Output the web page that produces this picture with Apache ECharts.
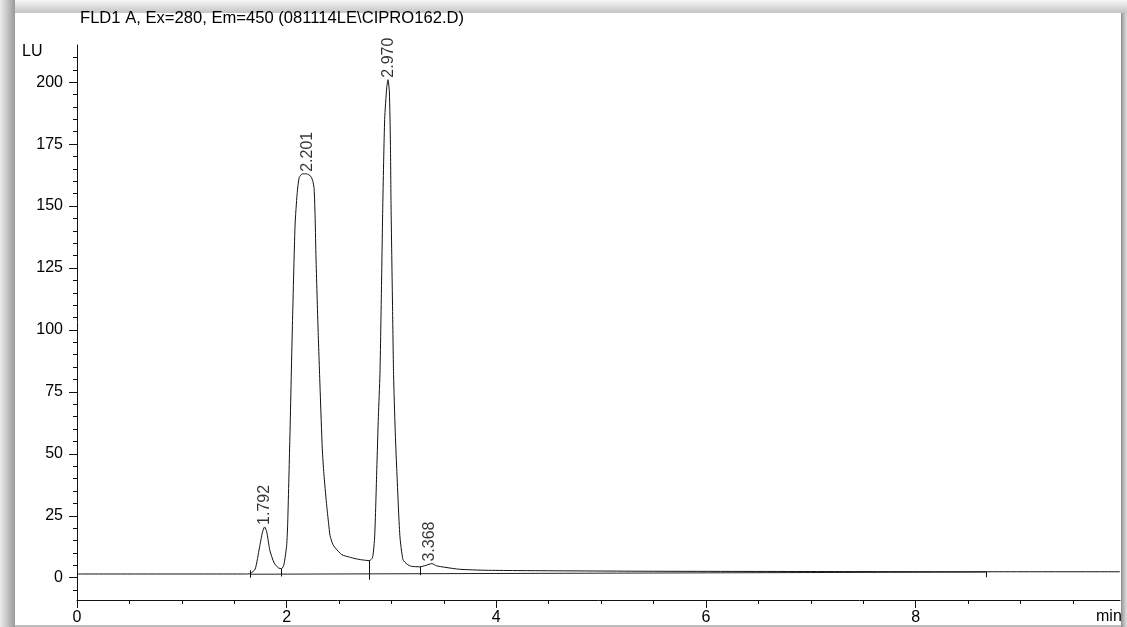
<!DOCTYPE html>
<html>
<head>
<meta charset="utf-8">
<script src="https://cdn.jsdelivr.net/npm/echarts@6/dist/echarts.min.js"></script>
<style>
html,body{margin:0;padding:0;background:#fff;}
#c{width:1127px;height:627px;}
</style>
</head>
<body>
<div id="c"></div>
<script>
// ---- data ----
var titleText = 'FLD1 A, Ex=280, Em=450 (081114LE\\CIPRO162.D)';
var timeMin = [0.00,1.60,1.65,1.70,1.74,1.77,1.79,1.81,1.84,1.88,1.92,1.953,1.975,2.00,2.01,2.03,2.054,2.08,2.10,2.12,2.15,2.19,2.23,2.25,2.262,2.272,2.28,2.30,2.32,2.34,2.355,2.38,2.40,2.414,2.44,2.46,2.526,2.60,2.653,2.72,2.79,2.82,2.84,2.86,2.875,2.89,2.905,2.917,2.935,2.955,2.967,2.98,2.99,2.996,3.01,3.02,3.035,3.05,3.08,3.11,3.15,3.19,3.27,3.33,3.385,3.43,3.51,3.65,3.90,4.50,5.50,7.00,8.50,9.95];
var signalLU = [1.5,1.5,1.6,3.5,12,18.5,20.5,18.5,11,6,4.0,3.6,5.5,13,22,55,100,142,155,161.5,163,163,162,160,157,145,129,100,75,52,42,30,22,17,13.5,12.2,9.3,8.3,7.7,7.2,6.9,8.2,16.8,43.8,65,82,118,150,185,198,201,196,175,150,110,82,60,44,17,7.3,5.4,4.6,4.4,5.0,5.7,4.8,4.2,3.4,3.0,2.8,2.6,2.5,2.4,2.4];
var peakTimes = [1.792, 2.201, 2.970, 3.368];
var peakHeights = [20.5, 163, 201, 5.7];
var baseTimes = [1.65, 8.67];
var baseLU = [1.4, 2.3];
var dropTimes = [1.65, 1.953, 2.79, 3.27, 8.67];
var dropFrom = [0.0, 0.5, -0.8, 1.0, 0.2];
var dropTo = [3.0, 3.6, 6.9, 4.4, 2.4];
var xMajorTicks = [0, 2, 4, 6, 8];
var xMinorTicks = [0.5,1,1.5,2.5,3,3.5,4.5,5,5.5,6.5,7,7.5,8.5,9,9.5];
var yMajorTicks = [0, 25, 50, 75, 100, 125, 150, 175, 200];
var yMinorTicks = [-5,5,10,15,20,30,35,40,45,55,60,65,70,80,85,90,95,105,110,115,120,130,135,140,145,155,160,165,170,180,185,190,195,205,210];
var xMin = 0, xMax = 9.95, yMin = -9, yMax = 215;

// ---- chart ----
var FONT = 'Liberation Sans, Arial, sans-serif';
var signal = timeMin.map(function(t, i){ return [t, signalLU[i]]; });
var baseline = baseTimes.map(function(t, i){ return [t, baseLU[i]]; });
var drops = dropTimes.map(function(t, i){ return [{coord:[t, dropFrom[i]]}, {coord:[t, dropTo[i]]}]; });
var peaks = peakTimes.map(function(t, i){ return [t, peakHeights[i]]; });

function xAx(vals, len, showLabel, showLine){
  return {
    type:'value', min:xMin, max:xMax, position:'bottom',
    axisLine:{show:showLine, onZero:false, lineStyle:{color:'#111', width:1}},
    axisTick:{show:true, length:len, inside:false, customValues:vals, lineStyle:{color:'#111', width:1}},
    axisLabel:{show:showLabel, customValues:vals, margin:10, color:'#000', fontSize:16, fontFamily:FONT},
    splitLine:{show:false}
  };
}
function yAx(vals, len, showLabel, showLine){
  return {
    type:'value', min:yMin, max:yMax, position:'left',
    axisLine:{show:showLine, onZero:false, lineStyle:{color:'#111', width:1}},
    axisTick:{show:true, length:len, inside:false, customValues:vals, lineStyle:{color:'#111', width:1}},
    axisLabel:{show:showLabel, customValues:vals, margin:14, color:'#000', fontSize:16, fontFamily:FONT},
    splitLine:{show:false}
  };
}

var chart = echarts.init(document.getElementById('c'), null, {renderer:'canvas'});
chart.setOption({
  animation:false,
  backgroundColor:'#fff',
  grid:{left:77, right:7, top:45, bottom:27, containLabel:false},
  xAxis:[xAx(xMajorTicks, 8, true, true), xAx(xMinorTicks, 4, false, false)],
  yAxis:[yAx(yMajorTicks, 8, true, true), yAx(yMinorTicks, 4, false, false)],
  graphic:[
    {type:'rect', shape:{x:0,y:0,width:15,height:627}, silent:true, z:100,
      style:{fill:new echarts.graphic.LinearGradient(0,0,1,0,[{offset:0,color:'#ececec'},{offset:1,color:'#9a9a9a'}])}},
    {type:'rect', shape:{x:15,y:0,width:1112,height:13}, silent:true, z:100,
      style:{fill:new echarts.graphic.LinearGradient(0,0,0,1,[{offset:0,color:'#f6f6f6'},{offset:1,color:'#c4c4c4'}])}},
    {type:'rect', shape:{x:1121,y:13,width:6,height:614}, silent:true, z:100,
      style:{fill:new echarts.graphic.LinearGradient(0,0,1,0,[{offset:0,color:'#8a8a8a'},{offset:0.35,color:'#b0b0b0'},{offset:1,color:'#e0e0e0'}])}},
    {type:'rect', shape:{x:15,y:625,width:1106,height:2}, silent:true, z:100, style:{fill:'#bdbdbd'}},
    {type:'text', left:80, top:10, z:101, style:{text:titleText, fill:'#000', font:'16.6px ' + FONT}},
    {type:'text', left:22, top:44, z:101, style:{text:'LU', fill:'#000', font:'16px ' + FONT}},
    {type:'text', left:1096, top:609, z:101, style:{text:'min', fill:'#000', font:'16px ' + FONT}}
  ],
  series:[
    {type:'line', name:'signal', data:signal, xAxisIndex:0, yAxisIndex:0, showSymbol:false, symbol:'none',
      smooth:0.2, lineStyle:{color:'#111', width:1}, z:3,
      markLine:{silent:true, symbol:['none','none'], label:{show:false}, animation:false,
        lineStyle:{color:'#111', width:1, type:'solid'}, data:drops}},
    {type:'line', name:'baseline', data:baseline, xAxisIndex:0, yAxisIndex:0, showSymbol:false, symbol:'none',
      lineStyle:{color:'#222', width:1}, z:2},
    {type:'scatter', name:'peaks', data:peaks, xAxisIndex:0, yAxisIndex:0, symbolSize:0, z:4,
      label:{show:true, position:'top', distance:2, rotate:90, align:'left', verticalAlign:'middle',
        color:'#000', fontSize:16, fontFamily:FONT,
        formatter:function(p){ return p.value[0].toFixed(3); }}}
  ]
});
</script>
</body>
</html>
